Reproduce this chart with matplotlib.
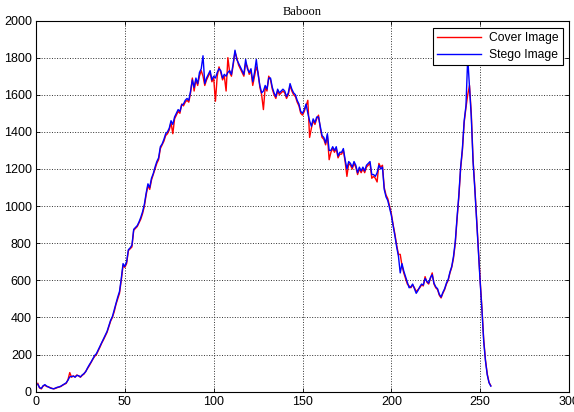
import matplotlib

matplotlib.use("Agg")
import matplotlib.pyplot as plt
import numpy as np

# grey levels 1..256 (MATLAB style indexing, as in the reference)
levels = np.arange(1, 257)

cover_counts = [
    45, 20, 15, 30, 35, 28, 25, 22, 18, 15, 18, 22, 25, 28, 35, 40,
    45, 65, 103, 78, 85, 80, 90, 85, 78, 88, 95, 110, 125, 140, 158, 175,
    190, 200, 220, 240, 262, 280, 300, 320, 350, 380, 400, 430, 470, 500, 530, 600,
    680, 670, 690, 760, 770, 780, 870, 880, 890, 910, 930, 960, 1000, 1060, 1110, 1090,
    1140, 1170, 1200, 1230, 1250, 1310, 1330, 1350, 1380, 1390, 1410, 1450, 1390, 1470, 1490, 1510,
    1500, 1550, 1540, 1560, 1570, 1560, 1610, 1690, 1620, 1680, 1650, 1700, 1730, 1700, 1650, 1680,
    1700, 1720, 1670, 1690, 1565, 1700, 1750, 1720, 1680, 1700, 1620, 1800, 1720, 1700, 1760, 1830,
    1800, 1760, 1740, 1720, 1700, 1770, 1750, 1710, 1730, 1650, 1700, 1750, 1720, 1640, 1600, 1520,
    1640, 1620, 1700, 1680, 1630, 1600, 1580, 1620, 1600, 1610, 1620, 1610, 1580, 1600, 1650, 1620,
    1600, 1590, 1560, 1540, 1500, 1490, 1510, 1540, 1570, 1370, 1420, 1460, 1440, 1470, 1490, 1420,
    1370, 1360, 1330, 1380, 1250, 1290, 1310, 1290, 1310, 1260, 1280, 1280, 1300, 1240, 1160, 1230,
    1220, 1200, 1230, 1210, 1170, 1200, 1180, 1200, 1180, 1210, 1220, 1230, 1150, 1160, 1150, 1130,
    1230, 1210, 1220, 1100, 1060, 1040, 1000, 960, 900, 850, 790, 740, 740, 680, 640, 610,
    580, 570, 560, 575, 560, 540, 550, 560, 575, 570, 620, 590, 580, 610, 640, 580,
    560, 550, 520, 505, 530, 550, 580, 600, 640, 670, 720, 800, 930, 1050, 1200, 1300,
    1450, 1530, 1600, 1650, 1500, 1250, 1100, 930, 760, 600, 450, 280, 170, 95, 50, 32,
]

stego_counts = [
    40, 22, 18, 32, 38, 30, 26, 20, 17, 16, 20, 24, 26, 30, 36, 42,
    48, 62, 80, 82, 84, 78, 88, 86, 80, 90, 98, 108, 128, 145, 160, 178,
    195, 205, 225, 245, 265, 285, 305, 325, 355, 385, 405, 440, 475, 510, 540, 610,
    690, 675, 700, 765, 775, 790, 875, 885, 895, 915, 940, 970, 1010, 1070, 1120, 1100,
    1150, 1175, 1210, 1240, 1260, 1320, 1335, 1360, 1390, 1400, 1420, 1460, 1440, 1480, 1500, 1520,
    1510, 1545, 1550, 1570, 1580, 1570, 1620, 1680, 1640, 1690, 1660, 1720, 1740, 1810, 1660, 1690,
    1710, 1730, 1680, 1700, 1690, 1720, 1740, 1730, 1690, 1710, 1700, 1720, 1730, 1710, 1770, 1840,
    1790, 1770, 1750, 1730, 1710, 1790, 1740, 1720, 1740, 1670, 1720, 1790, 1710, 1650, 1610, 1620,
    1650, 1630, 1690, 1690, 1640, 1610, 1590, 1630, 1610, 1620, 1630, 1620, 1590, 1610, 1660, 1630,
    1610, 1600, 1570, 1550, 1510, 1500, 1520, 1550, 1500, 1460, 1430, 1470, 1450, 1480, 1480, 1430,
    1380, 1370, 1340, 1390, 1300, 1300, 1320, 1300, 1320, 1270, 1290, 1290, 1310, 1250, 1200, 1240,
    1230, 1210, 1240, 1220, 1180, 1210, 1190, 1210, 1190, 1220, 1230, 1240, 1170, 1170, 1160, 1180,
    1220, 1200, 1210, 1090, 1050, 1030, 990, 950, 895, 840, 780, 730, 640, 690, 650, 620,
    590, 560, 565, 580, 555, 530, 545, 565, 580, 575, 610, 595, 585, 615, 630, 585,
    565, 555, 525, 510, 535, 555, 585, 605, 645, 675, 730, 810, 940, 1060, 1210, 1310,
    1460, 1540, 1800, 1640, 1480, 1240, 1090, 920, 750, 590, 440, 270, 165, 90, 48, 30,
]

x_ticks = [0, 50, 100, 150, 200, 250, 300]
y_ticks = [0, 200, 400, 600, 800, 1000, 1200, 1400, 1600, 1800, 2000]

W, H = 574, 412
fig = plt.figure(figsize=(W / 100, H / 100), dpi=100)
# axes box in pixels: left 36, right 569, top 20.5, bottom 391.7
ax = fig.add_axes([36 / W, (H - 391.7) / H, 533 / W, 371.2 / H])

ax.plot(levels, cover_counts, color="#ff0000", linewidth=1.0, label="Cover Image")
ax.plot(levels, stego_counts, color="#0000ff", linewidth=1.0, label="Stego Image")

ax.set_xlim(0, 300)
ax.set_ylim(0, 2000)
ax.set_xticks(x_ticks)
ax.set_yticks(y_ticks)
ax.grid(True, color="#303030", linestyle=":", linewidth=0.7)
ax.tick_params(direction="in", length=3, width=0.6, top=True, right=True, labelsize=9, pad=3)
for label in ax.get_xticklabels() + ax.get_yticklabels():
    label.set_family("Liberation Sans")
for spine in ax.spines.values():
    spine.set_linewidth(0.8)

ax.set_title("Baboon", fontsize=9, family="Liberation Serif", pad=4)

leg = ax.legend(loc="upper right", bbox_to_anchor=(0.9887, 0.98), borderaxespad=0,
                fancybox=False, edgecolor="black", framealpha=1, borderpad=0.35,
                handlelength=3.6, handletextpad=0.7, labelspacing=0.4,
                prop={"family": "Liberation Sans", "size": 8.7})
leg.get_frame().set_linewidth(0.8)

fig.savefig("out.png", dpi=100)
